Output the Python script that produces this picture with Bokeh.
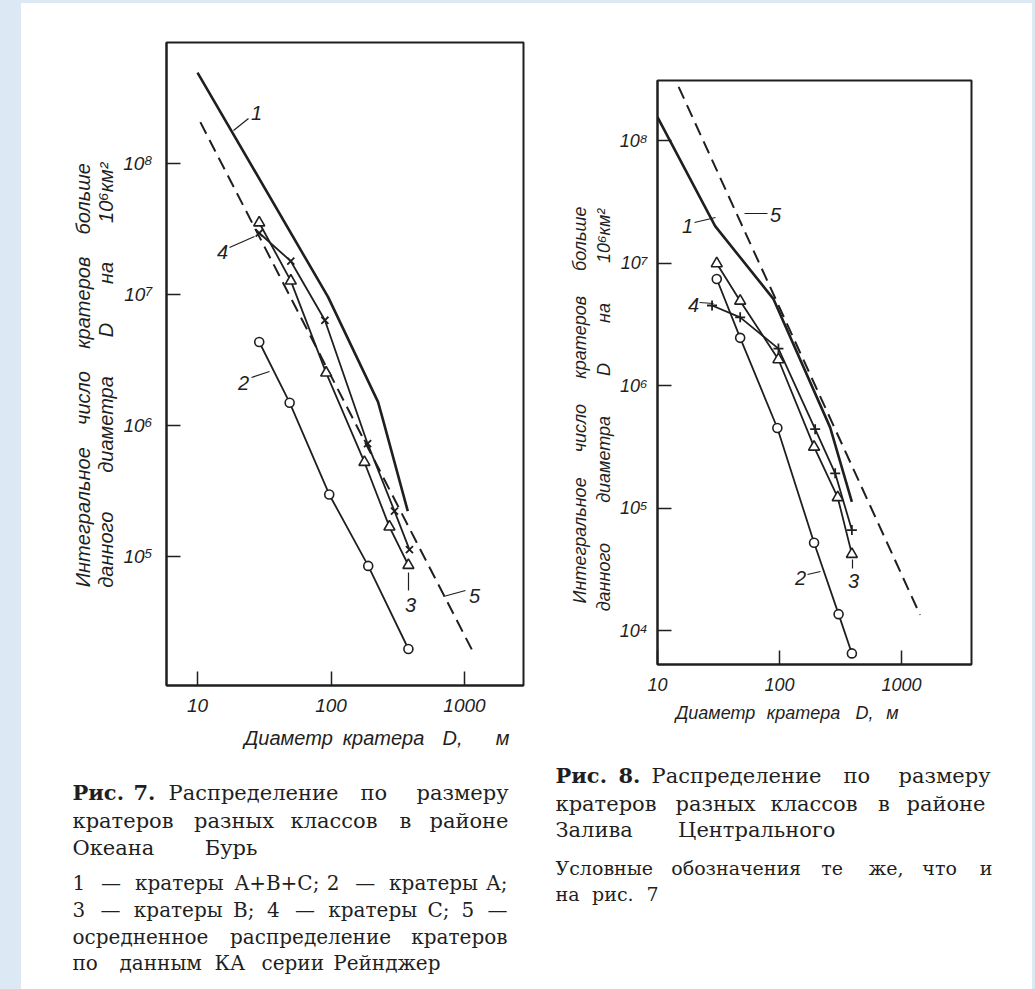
import math
from bokeh.plotting import figure
from bokeh.models import Range1d, FixedTicker, Label, Spacer, CustomJSTickFormatter
from bokeh.layouts import row, column
from bokeh.core.properties import value
from bokeh.embed import file_html
from bokeh.resources import INLINE

INK = "#1f1f1f"
PAGE_BG = "#dde8f5"
HAND = "Liberation Sans"
CAP_FONT = "DejaVu Serif"
NB = "\u00a0"

# ---------------- ticks ----------------
x_ticks = [10, 100, 1000]
x_tick_labels = ["10", "100", "1000"]
f7_y_ticks = [1e5, 1e6, 1e7, 1e8]
f7_y_tick_labels = ["10⁵", "10⁶", "10⁷", "10⁸"]
f8_y_ticks = [1e4, 1e5, 1e6, 1e7, 1e8]
f8_y_tick_labels = ["10⁴", "10⁵", "10⁶", "10⁷", "10⁸"]

# ---------------- Fig. 7 (Океан Бурь) : D [m] -> N per 10^6 km^2 ----------------
f7_d1 = [10, 95, 225, 245, 376]                      # 1: A+B+C
f7_n1 = [4.9e8, 9.5e6, 1.5e6, 1.1e6, 2.2e5]
f7_d2 = [29, 49, 97, 190, 380]                       # 2: A
f7_n2 = [4.3e6, 1.48e6, 2.95e5, 8.4e4, 1.95e4]
f7_d3 = [29, 50, 92, 178, 274, 380]                  # 3: B
f7_n3 = [3.5e7, 1.26e7, 2.5e6, 5.2e5, 1.67e5, 8.5e4]
f7_d4 = [29, 50, 90, 188, 299, 387]                  # 4: C
f7_n4 = [2.92e7, 1.78e7, 6.3e6, 7.2e5, 2.2e5, 1.12e5]
f7_d5 = [10.5, 1160]                                 # 5: Ranger average
f7_n5 = [2.05e8, 1.85e4]

# ---------------- Fig. 8 (Залив Центральный) ----------------
f8_d1 = [10, 29.7, 89, 260, 392]
f8_n1 = [1.55e8, 2.0e7, 5.1e6, 4.55e5, 1.12e5]
f8_d2 = [30.6, 47.6, 96, 192, 305, 392]
f8_n2 = [7.4e6, 2.45e6, 4.5e5, 5.2e4, 1.36e4, 6.5e3]
f8_d3 = [30.6, 47.6, 98, 192, 300, 392]
f8_n3 = [9.9e6, 4.9e6, 1.63e6, 3.15e5, 1.22e5, 4.2e4]
f8_d4 = [28, 47.6, 98, 196, 286, 392]
f8_n4 = [4.5e6, 3.6e6, 2.0e6, 4.4e5, 1.92e5, 6.6e4]
f8_d5 = [14.9, 1420]
f8_n5 = [2.74e8, 1.34e4]

Y_TITLE_1 = "Интегральное число кратеров больше"
Y_TITLE_2 = "данного диаметра D на 10⁶км²"
X_TITLE = ["Диаметр", "кратера", "D,", "м"]


class Cal:
    """page-pixel <-> data calibration of one log-log frame"""
    def __init__(self, L, R, T, B, xv0, xp0, xv1, xp1, yv0, yp0, yv1, yp1):
        self.L, self.R, self.T, self.B = L, R, T, B
        self.ax = (math.log10(xv1) - math.log10(xv0)) / (xp1 - xp0)
        self.bx = math.log10(xv0) - self.ax * xp0
        self.ay = (math.log10(yv1) - math.log10(yv0)) / (yp1 - yp0)
        self.by = math.log10(yv0) - self.ay * yp0

    def x(self, px):
        return 10 ** (self.ax * px + self.bx)

    def y(self, py):
        return 10 ** (self.ay * py + self.by)


def tick_formatter(vals, labs):
    return CustomJSTickFormatter(args=dict(vals=vals, labs=labs), code="""
        for (let i = 0; i < vals.length; i++) {
            if (Math.abs(tick - vals[i]) <= 1e-6 * vals[i]) { return labs[i]; }
        }
        return "";
    """)


def spaced(text, gap, trail):
    words = text.split()
    return (" " + NB * gap).join(words) + (NB * trail)


def make_fig(cal, left_px, top_px, width, height, y_ticks, y_labels, ylab_standoff,
             lab_size, title_size, title_lh, gap1, gap2, trail1, trail2, title_standoff):
    p = figure(width=width, height=height, x_axis_type="log", y_axis_type="log",
               x_range=Range1d(cal.x(cal.L), cal.x(cal.R)),
               y_range=Range1d(cal.y(cal.B), cal.y(cal.T)),
               output_backend="svg", toolbar_location=None,
               min_border_left=cal.L - left_px, min_border_right=left_px + width - cal.R,
               min_border_top=cal.T - top_px, min_border_bottom=top_px + height - cal.B)
    p.background_fill_color = "white"
    p.border_fill_color = "white"
    p.outline_line_color = INK
    p.outline_line_width = 2
    p.xgrid.visible = False
    p.ygrid.visible = False
    p.xaxis.ticker = FixedTicker(ticks=x_ticks)
    p.yaxis.ticker = FixedTicker(ticks=y_ticks)
    p.xaxis.formatter = tick_formatter(x_ticks, x_tick_labels)
    p.yaxis.formatter = tick_formatter(y_ticks, y_labels)
    for ax in (p.xaxis[0], p.yaxis[0]):
        ax.axis_line_color = INK
        ax.axis_line_width = 2
        ax.major_tick_line_color = INK
        ax.major_tick_line_width = 1.5
        ax.major_tick_in = 14
        ax.major_tick_out = 0
        ax.minor_tick_line_color = None
        ax.major_label_text_font = HAND
        ax.major_label_text_font_style = "italic"
        ax.major_label_text_color = INK
        ax.major_label_text_font_size = lab_size
    p.xaxis.major_label_standoff = 13
    p.yaxis.major_label_standoff = ylab_standoff
    yax = p.yaxis[0]
    yax.axis_label = spaced(Y_TITLE_1, gap1, trail1) + "\n" + spaced(Y_TITLE_2, gap2, trail2)
    yax.axis_label_text_font = HAND
    yax.axis_label_text_font_style = "italic"
    yax.axis_label_text_font_size = f"{title_size}px"
    yax.axis_label_text_color = INK
    yax.axis_label_text_line_height = title_lh
    yax.axis_label_standoff = title_standoff
    return p


def make_text_fig(x0, x1, y0, y1):
    p = figure(width=x1 - x0, height=y1 - y0, x_range=Range1d(x0, x1), y_range=Range1d(y1, y0),
               output_backend="svg", toolbar_location=None,
               x_axis_location=None, y_axis_location=None, min_border=0,
               min_border_left=0, min_border_right=0, min_border_top=0, min_border_bottom=0)
    p.outline_line_color = None
    p.background_fill_color = "white"
    p.border_fill_color = "white"
    p.grid.visible = False
    return p


def add_label(p, cal, px, py, text, size):
    p.add_layout(Label(x=cal.x(px), y=cal.y(py), text=text, text_font=HAND,
                       text_font_size=f"{size}px", text_font_style="italic",
                       text_align="center", text_baseline="middle", text_color=INK))


def est_width(text, size, style):
    w = 0.0
    for ch in text:
        if ch in ".,;:":
            w += 0.33
        elif ch == "—":
            w += 0.9
        elif ch == "+":
            w += 0.84
        elif ch.isdigit():
            w += 0.64
        else:
            w += 0.6
    w *= size
    if style == "bold":
        w *= 1.1
    return w


def put_words(tp, xs, ys, texts, size, font, style, align):
    tp.text(x=xs, y=ys, text=texts, text_font=value(font), text_font_size=f"{size}px",
            text_font_style=style, text_align=align, text_baseline="middle", text_color=INK)


def text_line(tp, tokens, x0, x1, py, size, justify=True):
    widths = [est_width(t, size, st) for t, st in tokens]
    n = len(tokens)
    gap = (x1 - x0 - sum(widths)) / (n - 1) if (justify and n > 1) else size * 0.6
    x = x0
    for i, ((t, st), w) in enumerate(zip(tokens, widths)):
        if justify and n > 1 and i == n - 1:
            put_words(tp, [x1], [py], [t], size, CAP_FONT, st, "right")
        else:
            put_words(tp, [x], [py], [t], size, CAP_FONT, st, "left")
        x += w + gap


def placed_line(tp, tokens, lefts, right, py, size):
    """words at given left edges, the last one flush right"""
    for (t, st), x in zip(tokens[:-1], lefts):
        put_words(tp, [x], [py], [t], size, CAP_FONT, st, "left")
    t, st = tokens[-1]
    put_words(tp, [right], [py], [t], size, CAP_FONT, st, "right")


def plain(words):
    return [(w, "normal") for w in words.split()]


def draw_series(p, d1, n1, d2, n2, d3, n3, d4, n4, m4, d5, n5):
    p.line(d5, n5, line_width=2, color=INK, line_dash="13 7")
    p.line(d1, n1, line_width=2.6, color=INK)
    p.line(d2, n2, line_width=1.8, color=INK)
    p.line(d3, n3, line_width=1.8, color=INK)
    p.line(d4, n4, line_width=1.8, color=INK)
    p.scatter(d2, n2, marker="circle", size=9, fill_color="white", line_color=INK, line_width=1.6)
    p.scatter(d3, n3, marker="triangle", size=11, fill_color="white", line_color=INK, line_width=1.6)
    p.scatter(d4, n4, marker=m4, size=10, line_color=INK, line_width=1.8)


def leaders(p, cal, segs):
    p.segment(x0=[cal.x(a[0]) for a, b in segs], y0=[cal.y(a[1]) for a, b in segs],
              x1=[cal.x(b[0]) for a, b in segs], y1=[cal.y(b[1]) for a, b in segs],
              line_width=1.2, line_color=INK)


TOP = 3   # light-blue strip at the top of the page

# ================= Figure 7 (page x 21..540) =================
cal7 = Cal(166, 523, 42, 685, 10, 197, 1000, 464, 1e8, 162.5, 1e5, 555.5)
p7 = make_fig(cal7, 21, TOP, 519, 725 - TOP, f7_y_ticks, f7_y_tick_labels, 14, "19px",
              20, 1.05, 3, 6, 4, 4, 3)
draw_series(p7, f7_d1, f7_n1, f7_d2, f7_n2, f7_d3, f7_n3, f7_d4, f7_n4, "x", f7_d5, f7_n5)
leaders(p7, cal7, [((233, 130), (248, 118)), ((229, 247), (254, 236)), ((251, 377), (269, 371)),
                   ((408, 572), (408, 590)), ((443, 596), (465, 590))])
for t, px, py in [("1", 256, 112), ("4", 222, 251), ("2", 243, 382), ("3", 410, 604), ("5", 474, 595)]:
    add_label(p7, cal7, px, py, t, 20)

c7 = make_text_fig(60, 530, 725, 985)
put_words(c7, [288, 383, 452, 502], [737] * 4, X_TITLE, 20, HAND, "italic", "center")
placed_line(c7, [("Рис.", "bold"), ("7.", "bold")] + plain("Распределение по размеру"),
            [72, 133, 168, 360], 508, 792, 21)
text_line(c7, plain("кратеров разных классов в районе"), 72, 508, 820, 21)
text_line(c7, plain("Океана Бурь"), 72, 257, 847, 21)
text_line(c7, plain("1 — кратеры A+B+C; 2 — кратеры A;"), 72, 507, 882, 20)
text_line(c7, plain("3 — кратеры B; 4 — кратеры C; 5 —"), 72, 507, 909, 20)
text_line(c7, plain("осредненное распределение кратеров"), 72, 507, 936, 20)
text_line(c7, plain("по данным КА серии Рейнджер"), 72, 440, 962, 20)

# ================= Figure 8 (page x 540..1032) =================
cal8 = Cal(657, 971, 80, 664, 10, 657, 1000, 901, 1e8, 140, 1e4, 630)
p8 = make_fig(cal8, 540, 38, 492, 666, f8_y_ticks, f8_y_tick_labels, 10, "18px",
              18, 1.2, 4, 7, 13, 15, 3)
draw_series(p8, f8_d1, f8_n1, f8_d2, f8_n2, f8_d3, f8_n3, f8_d4, f8_n4, "cross", f8_d5, f8_n5)
leaders(p8, cal8, [((694, 222), (715, 217)), ((744, 213), (767, 213)), ((699, 302), (713, 303)),
                   ((807, 574), (820, 571)), ((852, 559), (852, 568))])
for t, px, py in [("1", 687, 225), ("5", 775, 214), ("4", 693, 304), ("2", 800, 577), ("3", 853, 580)]:
    add_label(p8, cal8, px, py, t, 20)

c8 = make_text_fig(548, 1025, 704, 984)
put_words(c8, [715, 803, 864, 892], [712] * 4, X_TITLE, 18, HAND, "italic", "center")
placed_line(c8, [("Рис.", "bold"), ("8.", "bold")] + plain("Распределение по размеру"),
            [555, 618, 651, 843], 990, 775, 21)
text_line(c8, plain("кратеров разных классов в районе"), 555, 985, 803, 21)
text_line(c8, plain("Залива Центрального"), 555, 835, 829, 21)
text_line(c8, plain("Условные обозначения те же, что и"), 555, 992, 867, 19)
text_line(c8, plain("на рис. 7"), 555, 658, 893, 19)

col7 = column(p7, row(Spacer(width=39, height=260), c7))
col8 = column(Spacer(width=492, height=38 - TOP), p8, row(Spacer(width=8, height=280), c8))
top_strip = Spacer(width=1011, height=TOP, styles={"background-color": PAGE_BG})
left_strip = Spacer(width=21, height=989, styles={"background-color": PAGE_BG})
right_strip = Spacer(width=3, height=989, styles={"background-color": PAGE_BG})
layout = row(left_strip, column(top_strip, row(col7, col8)), right_strip)

html = file_html(layout, INLINE, title="Распределение кратеров по размеру")
with open("out.html", "w", encoding="utf-8") as fh:
    fh.write(html)
